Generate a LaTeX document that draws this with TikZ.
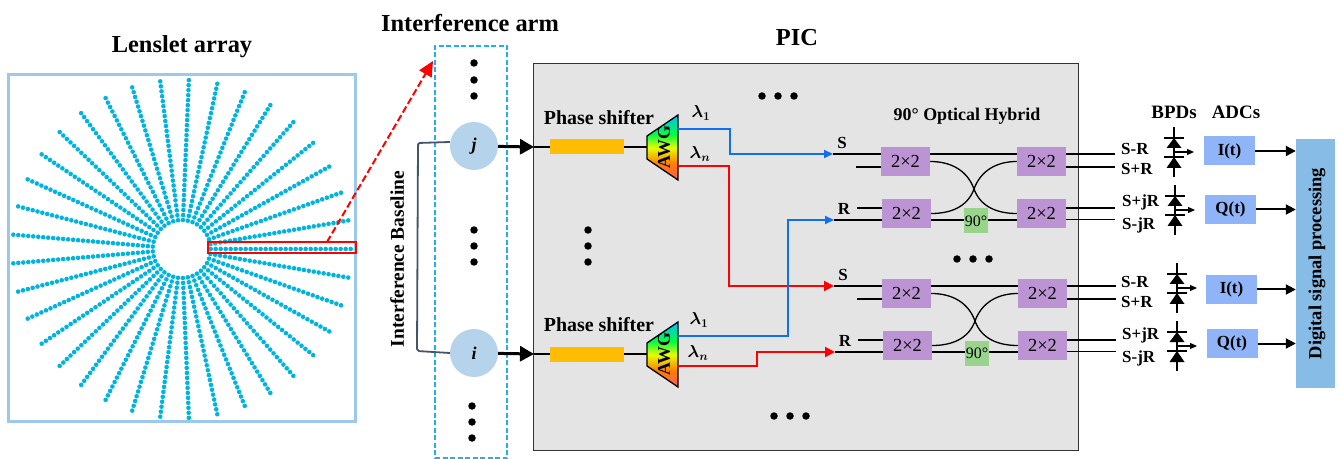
\documentclass[tikz,border=0pt]{standalone}
\usepackage{amsmath}
\usepackage{fontspec}
\setmainfont{Liberation Serif}
\usepackage{tikz}
\usetikzlibrary{arrows.meta,calc}
\definecolor{lensblue}{HTML}{00B4E0}
\definecolor{framblue}{HTML}{9CC8EC}
\definecolor{armblue}{HTML}{1FB0F0}
\definecolor{nodeblue}{HTML}{B5D4EC}
\definecolor{picgray}{HTML}{E4E4E4}
\definecolor{coupler}{HTML}{BC94D4}
\definecolor{shiftgreen}{HTML}{98D48C}
\definecolor{adcblue}{HTML}{8FB4F8}
\definecolor{dspblue}{HTML}{86BCE6}
\definecolor{phaseyel}{HTML}{FFBC00}
\definecolor{basegray}{HTML}{44546A}
\definecolor{lineblue}{HTML}{0F6FF0}
\pgfdeclareverticalshading{awgrainbow}{100bp}{color(0bp)=(red!65!white);color(25bp)=(red!65!white);color(38bp)=(orange);color(50bp)=(yellow!90!green);color(60bp)=(green!75!cyan);color(75bp)=(cyan!75!blue);color(100bp)=(cyan!75!blue)}
\tikzset{
  title/.style={font=\bfseries\fontsize{24.5}{26}\selectfont,inner sep=0},
  lab/.style={font=\bfseries\fontsize{20}{22}\selectfont,inner sep=0},
  small/.style={font=\bfseries\fontsize{17}{19}\selectfont,inner sep=0},
  arm/.style={circle,fill=nodeblue,minimum size=48bp,inner sep=0,font=\bfseries\itshape\fontsize{18}{20}\selectfont},
  shifter/.style={fill=phaseyel,minimum width=74bp,minimum height=15bp,inner sep=0},
  coup/.style={fill=coupler,minimum width=49bp,minimum height=29bp,inner sep=0,font=\fontsize{18.5}{20}\selectfont},
  ninety/.style={fill=shiftgreen,minimum width=24bp,minimum height=25bp,inner sep=0,font=\fontsize{16}{18}\selectfont},
  adc/.style={fill=adcblue,minimum width=51bp,minimum height=29bp,inner sep=0,font=\bfseries\fontsize{17}{19}\selectfont},
  dotn/.style={circle,fill=black,minimum size=7.5bp,inner sep=0},
  bigarr/.style={-{Triangle[length=14bp,width=15bp]},line width=3bp},
  sigblue/.style={-{Triangle[length=9bp,width=8bp]},draw=lineblue,line width=2bp},
  sigred/.style={-{Triangle[length=10bp,width=10bp]},draw=red,line width=2bp},
  wg/.style={line width=1.3bp},
  dsparr/.style={-{Triangle[length=10bp,width=10bp]},line width=2bp}
}
\begin{document}
\begin{tikzpicture}[x=1bp,y=-1bp]
\useasboundingbox (0,0) rectangle (1339,459);

% lenslet array
\node[title] (lenstitle) at (182,47) {Lenslet array};
\node[draw=framblue,line width=2.5bp,minimum width=347bp,minimum height=347bp,inner sep=0] (frame) at (182,248) {};
\coordinate (cen) at (181.7,249);
\foreach \k in {0,...,36}
  \foreach \r in {29,34,...,171}
    \fill[lensblue] ($(cen)+({\k*360/37}:{\r} and {-\r})$) circle (2.3);
\node[draw=red,line width=2bp,minimum width=148bp,minimum height=11bp,inner sep=0] (pick) at (282,247.5) {};

% interference arm
\node[title] (armtitle) at (470,23) {Interference arm};
\node[draw=armblue,dash pattern=on 5bp off 2.5bp,line width=2bp,minimum width=72bp,minimum height=412bp,inner sep=0] (armbox) at (471,252) {};
\coordinate (armtip) at (433,61);
\coordinate (pickout) at (327,242);
\draw[red,dash pattern=on 7bp off 3bp,line width=2bp,-{Triangle[length=15bp,width=14bp]}] (pickout) -- (armtip);
\node[arm] (j) at (474,146) {j};
\node[arm] (i) at (474,353) {i};
\foreach \n/\x/\y in {a1/474/63,a2/474/80,a3/474/96,a4/474/230,a5/474/246,a6/474/262,a7/472/406,a8/472/422,a9/472/438}
  \node[dotn] (\n) at (\x,\y) {};
\coordinate (bj) at (418,143);
\coordinate (bi) at (417,351);
\draw[basegray,line width=1.8bp,rounded corners=2bp] (j.west |- 0,142) -- (bj) -- (bi) -- (i.west |- 0,353);
\node[small,rotate=90,font=\bfseries\fontsize{19.5}{21}\selectfont] (baseline) at (397,259) {Interference Baseline};

% PIC
\node[title] (pictitle) at (797,38) {PIC};
\node[draw=black!80,fill=picgray,line width=1.3bp,minimum width=545bp,minimum height=387bp,inner sep=0] (pic) at (806,257) {};
\foreach \n/\x/\y in {p1/762/96,p2/778/96,p3/794/96,p4/588/230,p5/588/246,p6/588/262,p7/957/259,p8/973/259,p9/989/259,p10/774/416,p11/790/416,p12/806/416}
  \node[dotn] (\n) at (\x,\y) {};

% inputs, two channels
\foreach \c/\yy/\nd in {up/0/j,lo/207/i} {
  \begin{scope}[shift={(0,\yy)}]
    \node[shifter] (ps\c) at (587,147) {};
    \node[lab] (pslab\c) at (599,118) {Phase shifter};
    \coordinate (awgin\c) at (647,147);
    \coordinate (awg1\c) at (678,129);
    \coordinate (awgn\c) at (678,166);
    \draw[line width=2bp] (ps\c) -- (awgin\c);
    \draw[line width=1.3bp,shading=awgrainbow] (647,136) -- (678,115) -- (678,180) -- (647,159) -- cycle;
    \node[small,rotate=90,font=\bfseries\fontsize{18}{20}\selectfont] (awglab\c) at (664,147) {AWG};
  \end{scope}
  \coordinate (arr\c) at (534,\yy+147);
  \draw[bigarr] (\nd) -- (arr\c);
  \draw[line width=2bp] (arr\c) -- (ps\c);
}
\coordinate (awgnlo) at (678,366);
\node[inner sep=0,font=\fontsize{18}{20}\selectfont] (l1up) at (701,113) {$\boldsymbol{\lambda_1}$};
\node[inner sep=0,font=\fontsize{18}{20}\selectfont] (lnup) at (700,154) {$\boldsymbol{\lambda_n}$};
\node[inner sep=0,font=\fontsize{18}{20}\selectfont] (l1lo) at (699,320) {$\boldsymbol{\lambda_1}$};
\node[inner sep=0,font=\fontsize{18}{20}\selectfont] (lnlo) at (698,353) {$\boldsymbol{\lambda_n}$};

% hybrids
\foreach \h/\dx/\dy in {a/0/0,b/1/132} {
  \begin{scope}[shift={(\dx,\dy)}]
    \node[coup] (ul\h) at (905.5,161.5) {2×2};
    \node[coup] (ll\h) at (906.5,213.5) {2×2};
    \node[coup] (ur\h) at (1041.5,161.5) {2×2};
    \node[coup] (lr\h) at (1041.5,213.5) {2×2};
    \node[ninety] (ph\h) at (976,221) {90°};
    \coordinate (s\h) at (833,154);
    \coordinate (r\h) at (834,220);
    \coordinate (su\h) at (856,167);
    \coordinate (rd\h) at (857,208);
    \coordinate (o1\h) at (1115,154);
    \coordinate (o2\h) at (1115,167);
    \coordinate (o3\h) at (1115,208);
    \coordinate (o4\h) at (1115,219.5);
    \coordinate (x\h) at (974,189);
    \node[small] (sl\h) at (842,143) {S};
    \node[small] (rl\h) at (844,208.5) {R};
  \end{scope}
  \draw[wg] (s\h) -- (ul\h.west |- s\h) (ul\h.east |- s\h) -- (ur\h.west |- s\h) (ur\h.east |- s\h) -- (o1\h);
  \draw[wg] (su\h) -- (ul\h.west |- su\h) (ur\h.east |- o2\h) -- (o2\h);
  \draw[wg] (rd\h) -- (ll\h.west |- rd\h) (lr\h.east |- o3\h) -- (o3\h);
  \draw[wg] (r\h) -- (ll\h.west |- r\h) (ll\h.east |- r\h) -- (ph\h.west |- r\h) (ph\h.east |- r\h) -- (lr\h.west |- r\h) (lr\h.east |- o4\h) -- (o4\h);
  \draw[wg] (ul\h.east) to[out=0,in=110] (x\h) to[out=-70,in=180] (lr\h.west);
  \draw[wg] (ll\h.east) to[out=0,in=-110] (x\h) to[out=70,in=180] (ur\h.west);
}

% routing after the AWGs
\coordinate (bend1) at (730,129);
\coordinate (bend2) at (730,154);
\draw[sigblue] (awg1up) -- (bend1) -- (bend2) -- (sa);
\coordinate (bend3) at (729,166);
\coordinate (bend4) at (729,286);
\draw[sigred] (awgnup) -- (bend3) -- (bend4) -- (sb);
\coordinate (bend5) at (788,336);
\coordinate (bend6) at (788,220);
\draw[sigblue] (awg1lo) -- (bend5) -- (bend6) -- (ra);
\coordinate (bend7) at (757,366);
\coordinate (bend8) at (757,352);
\draw[sigred] (awgnlo) -- (bend7) -- (bend8) -- (rb);

% outputs
\foreach \n/\x/\y/\t in {oa/1121/149/S-R,ob/1121/169/S+R,oc/1122/202/S+jR,od/1122/225/S-jR,oe/1121/282/S-R,of/1121/302/S+R,og/1122/335/S+jR,oh/1122/358/S-jR}
  \node[small,anchor=west] (\n) at (\x,\y) {\t};
\node[small,font=\bfseries\fontsize{19}{21}\selectfont] (bpdlab) at (1174,112) {BPDs};
\node[small,font=\bfseries\fontsize{19}{21}\selectfont] (adclab) at (1236,112) {ADCs};
\node[small,font=\bfseries\fontsize{18}{20}\selectfont] (hyblab) at (967,116) {90° Optical Hybrid};
\foreach \x/\y in {1174/127,1175/185,1177/263,1177/321} {
  \draw[line width=1.2bp] (\x,\y) -- (\x,\y+50);
  \draw[line width=1.3bp] (\x-10,\y+11) -- (\x+10,\y+11) (\x-10,\y+30) -- (\x+10,\y+30);
  \fill (\x,\y+11) -- (\x+7.5,\y+21) -- (\x-7.5,\y+21) -- cycle;
  \fill (\x,\y+30) -- (\x+7.5,\y+41) -- (\x-7.5,\y+41) -- cycle;
  \draw[line width=1.2bp,-{Triangle[length=7bp,width=6bp]}] (\x,\y+25) -- (\x+20,\y+25);
}
\node[adc] (ia) at (1229.5,151) {I(t)};
\node[adc] (qa) at (1230.5,209.5) {Q(t)};
\node[adc] (ib) at (1231.5,289.5) {I(t)};
\node[adc] (qb) at (1232,343.5) {Q(t)};
\node[fill=dspblue,minimum width=39bp,minimum height=249bp,inner sep=0] (dsp) at (1315.5,263.5) {};
\node[small,rotate=90,font=\bfseries\fontsize{18.5}{20}\selectfont] (dsplab) at (1317,263.5) {Digital signal processing};
\foreach \n in {ia,qa,ib,qb}
  \draw[dsparr] (\n) -- (\n.center -| dsp.west);
\end{tikzpicture}
\end{document}
